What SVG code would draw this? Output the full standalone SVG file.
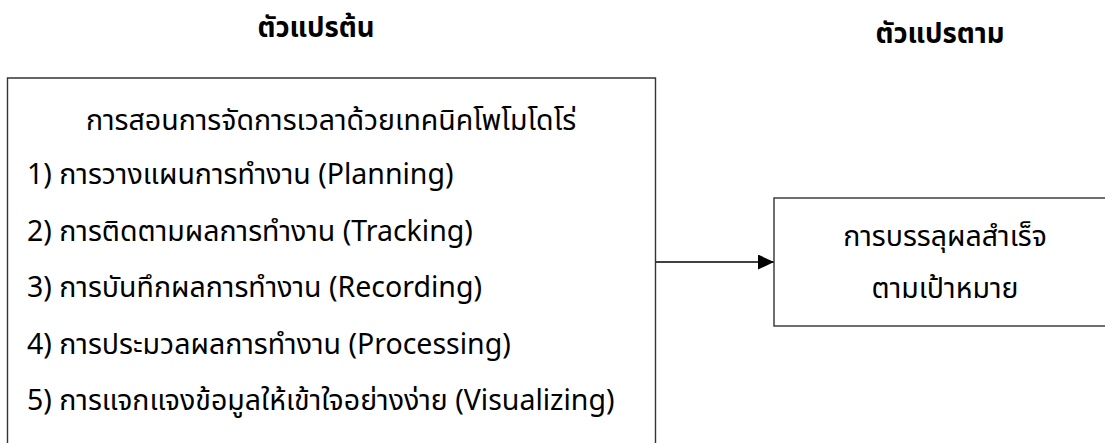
<svg xmlns="http://www.w3.org/2000/svg" width="1105" height="443" viewBox="0 0 1105 443">
<style>
text{font-family:"Noto Sans Thai","Noto Sans Thai UI","Noto Sans","DejaVu Sans",sans-serif;fill:#000;}
.t{font-size:28.5px;}
.h{font-size:27.5px;font-weight:bold;}
.box{fill:#fff;stroke:#333;stroke-width:1.4;}
.c{stroke:#000;stroke-width:1.3;fill:none;}
</style>
<defs>
<marker id="ah" markerWidth="16" markerHeight="15" refX="16" refY="7.5" orient="auto" markerUnits="userSpaceOnUse">
<path d="M0,0 L16,7.5 L0,15 Z" fill="#000"/>
</marker>
</defs>
<rect width="1105" height="443" fill="#fff"/>
<g id="label-independent"><text class="h" x="316" y="37" text-anchor="middle">ตัวแปรต้น</text></g>
<g id="label-dependent"><text class="h" x="940" y="43" text-anchor="middle">ตัวแปรตาม</text></g>
<g id="connectors"><line class="c" x1="656" y1="262" x2="774" y2="262" marker-end="url(#ah)"/></g>
<g id="node-independent">
<path class="box" d="M7.5,450 L7.5,78 L655.5,78 L655.5,450"/>
<text class="t" x="331" y="130" text-anchor="middle">การสอนการจัดการเวลาด้วยเทคนิคโพโมโดโร่</text>
<text class="t" x="27" y="184">1) การวางแผนการทำงาน (Planning)</text>
<text class="t" x="27" y="241">2) การติดตามผลการทำงาน (Tracking)</text>
<text class="t" x="27" y="297">3) การบันทึกผลการทำงาน (Recording)</text>
<text class="t" x="27" y="354">4) การประมวลผลการทำงาน (Processing)</text>
<text class="t" x="27" y="410">5) การแจกแจงข้อมูลให้เข้าใจอย่างง่าย (Visualizing)</text>
</g>
<g id="node-dependent">
<rect class="box" x="774" y="198" width="345" height="128"/>
<text class="t" x="945" y="246" text-anchor="middle">การบรรลุผลสำเร็จ</text>
<text class="t" x="945" y="298" text-anchor="middle">ตามเป้าหมาย</text>
</g>
</svg>
